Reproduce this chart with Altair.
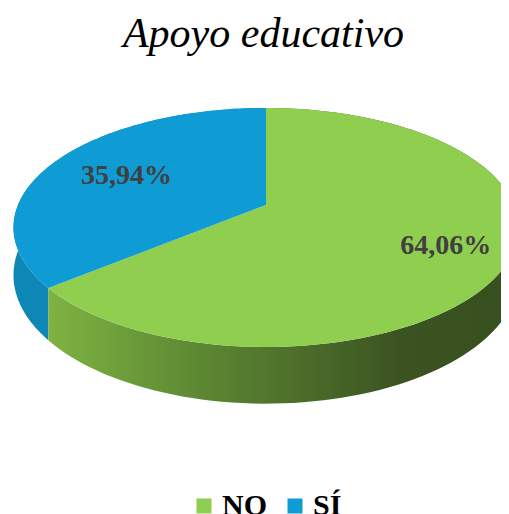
import altair as alt
import pandas as pd

categories = ["NO", "SÍ"]
values = [64.06, 35.94]
top_colors = ["#8FCE4F", "#0F9BD4"]
blue_side = "#0D87B6"
green_side_stops = ["#7EB342", "#5A8431", "#3B5321", "#384F1F"]
title_text = "Apoyo educativo"

# geometry of the tilted disc (layout, not data)
CX, CY = 266, 205
KX, KY = 248, 115.3
P = 0.188
H = 46
N = 120

df = pd.DataFrame({"cat": categories, "value": values, "order": list(range(len(categories)))})

xs = alt.Scale(domain=[8, 501], nice=False, zero=False)
ys = alt.Scale(domain=[8, 514], nice=False, zero=False, reverse=True)

base = (
    alt.Chart(df)
    .transform_window(cum="sum(value)", sort=[{"field": "order"}], frame=[None, 0])
    .transform_joinaggregate(total="sum(value)")
    .transform_calculate(
        a0="2*PI*(datum.cum-datum.value)/datum.total",
        a1="2*PI*datum.cum/datum.total",
    )
)

# side bands
side = (
    base.transform_calculate(steps=f"sequence(0, {2 * N + 2})")
    .transform_flatten(["steps"], as_=["k"])
    .transform_calculate(
        t=f"datum.k<={N} ? datum.k/{N} : ({2 * N + 1}-datum.k)/{N}",
    )
    .transform_calculate(th="datum.a0+(datum.a1-datum.a0)*datum.t")
    .transform_calculate(u="sin(datum.th)", w="-cos(datum.th)")
    .transform_calculate(den=f"1-{P}*datum.w")
    .transform_calculate(
        px=f"{CX}+{KX}*datum.u/datum.den",
        py=f"{CY}+{KY}*datum.w/datum.den + (datum.k>{N} ? {H}/datum.den : 0)",
    )
)

enc = dict(
    x=alt.X("px:Q", scale=xs, axis=None),
    y=alt.Y("py:Q", scale=ys, axis=None),
    order=alt.Order("k:Q"),
    detail="cat:N",
)

blue_side_layer = side.transform_filter(alt.datum.cat == categories[1]).mark_line(
    filled=True, fill=blue_side, strokeWidth=0
).encode(**enc)

green_grad = {
    "gradient": "linear",
    "x1": 0, "x2": 1, "y1": 0, "y2": 0,
    "stops": [
        {"offset": 0.0, "color": green_side_stops[0]},
        {"offset": 0.35, "color": green_side_stops[1]},
        {"offset": 0.75, "color": green_side_stops[2]},
        {"offset": 1.0, "color": green_side_stops[3]},
    ],
}
green_side_layer = side.transform_filter(alt.datum.cat == categories[0]).mark_line(
    filled=True, fill=green_grad, strokeWidth=0
).encode(**enc)

# top faces
top = (
    base.transform_calculate(steps=f"sequence(0, {N + 2})")
    .transform_flatten(["steps"], as_=["k"])
    .transform_calculate(th=f"datum.a0+(datum.a1-datum.a0)*min(datum.k,{N})/{N}")
    .transform_calculate(u="sin(datum.th)", w="-cos(datum.th)")
    .transform_calculate(den=f"1-{P}*datum.w")
    .transform_calculate(
        px=f"datum.k>{N} ? {CX} : {CX}+{KX}*datum.u/datum.den",
        py=f"datum.k>{N} ? {CY} : {CY}+{KY}*datum.w/datum.den",
    )
    .mark_line(filled=True, strokeWidth=0)
    .encode(
        x=alt.X("px:Q", scale=xs, axis=None),
        y=alt.Y("py:Q", scale=ys, axis=None),
        order=alt.Order("k:Q"),
        color=alt.Color(
            "cat:N",
            scale=alt.Scale(domain=categories, range=top_colors),
            legend=alt.Legend(
                title=None,
                orient="none",
                legendX=181,
                legendY=483,
                direction="horizontal",
                symbolType="square",
                symbolSize=225,
                symbolStrokeWidth=0,
                symbolOpacity=1,
                labelFont="Liberation Serif",
                labelFontSize=30,
                labelFontWeight="bold",
                labelColor="#000000",
                labelOffset=3,
                columnPadding=13,
                padding=0,
            ),
        ),
    )
)

F = 0.71
labels = (
    base.transform_calculate(th="(datum.a0+datum.a1)/2")
    .transform_calculate(u=f"{F}*sin(datum.th)", w=f"-{F}*cos(datum.th)")
    .transform_calculate(den=f"1-{P}*datum.w")
    .transform_calculate(
        px=f"{CX}+{KX}*datum.u/datum.den",
        py=f"{CY}+{KY}*datum.w/datum.den",
        lab="replace(format(datum.value, '.2f'), '.', ',') + '%'",
    )
    .mark_text(
        font="Liberation Serif",
        fontSize=28,
        fontWeight="bold",
        color="#404040",
        dx=11,
        dy=4,
    )
    .encode(
        x=alt.X("px:Q", scale=xs, axis=None),
        y=alt.Y("py:Q", scale=ys, axis=None),
        text="lab:N",
    )
)

title = (
    alt.Chart(pd.DataFrame({"t": [title_text]}))
    .mark_text(
        font="Liberation Serif",
        fontSize=42,
        fontStyle="italic",
        color="#000000",
        align="center",
        baseline="alphabetic",
    )
    .encode(x=alt.value(255.5), y=alt.value(39), text="t:N")
)

chart = (
    alt.layer(blue_side_layer, green_side_layer, top, labels, title)
    .properties(
        width=493,
        height=506,
        padding=0,
        autosize=alt.AutoSizeParams(type="none"),
        background="white",
    )
    .configure_view(strokeWidth=0)
)

chart.save("out.html", embed_options={"renderer": "svg", "actions": False})
